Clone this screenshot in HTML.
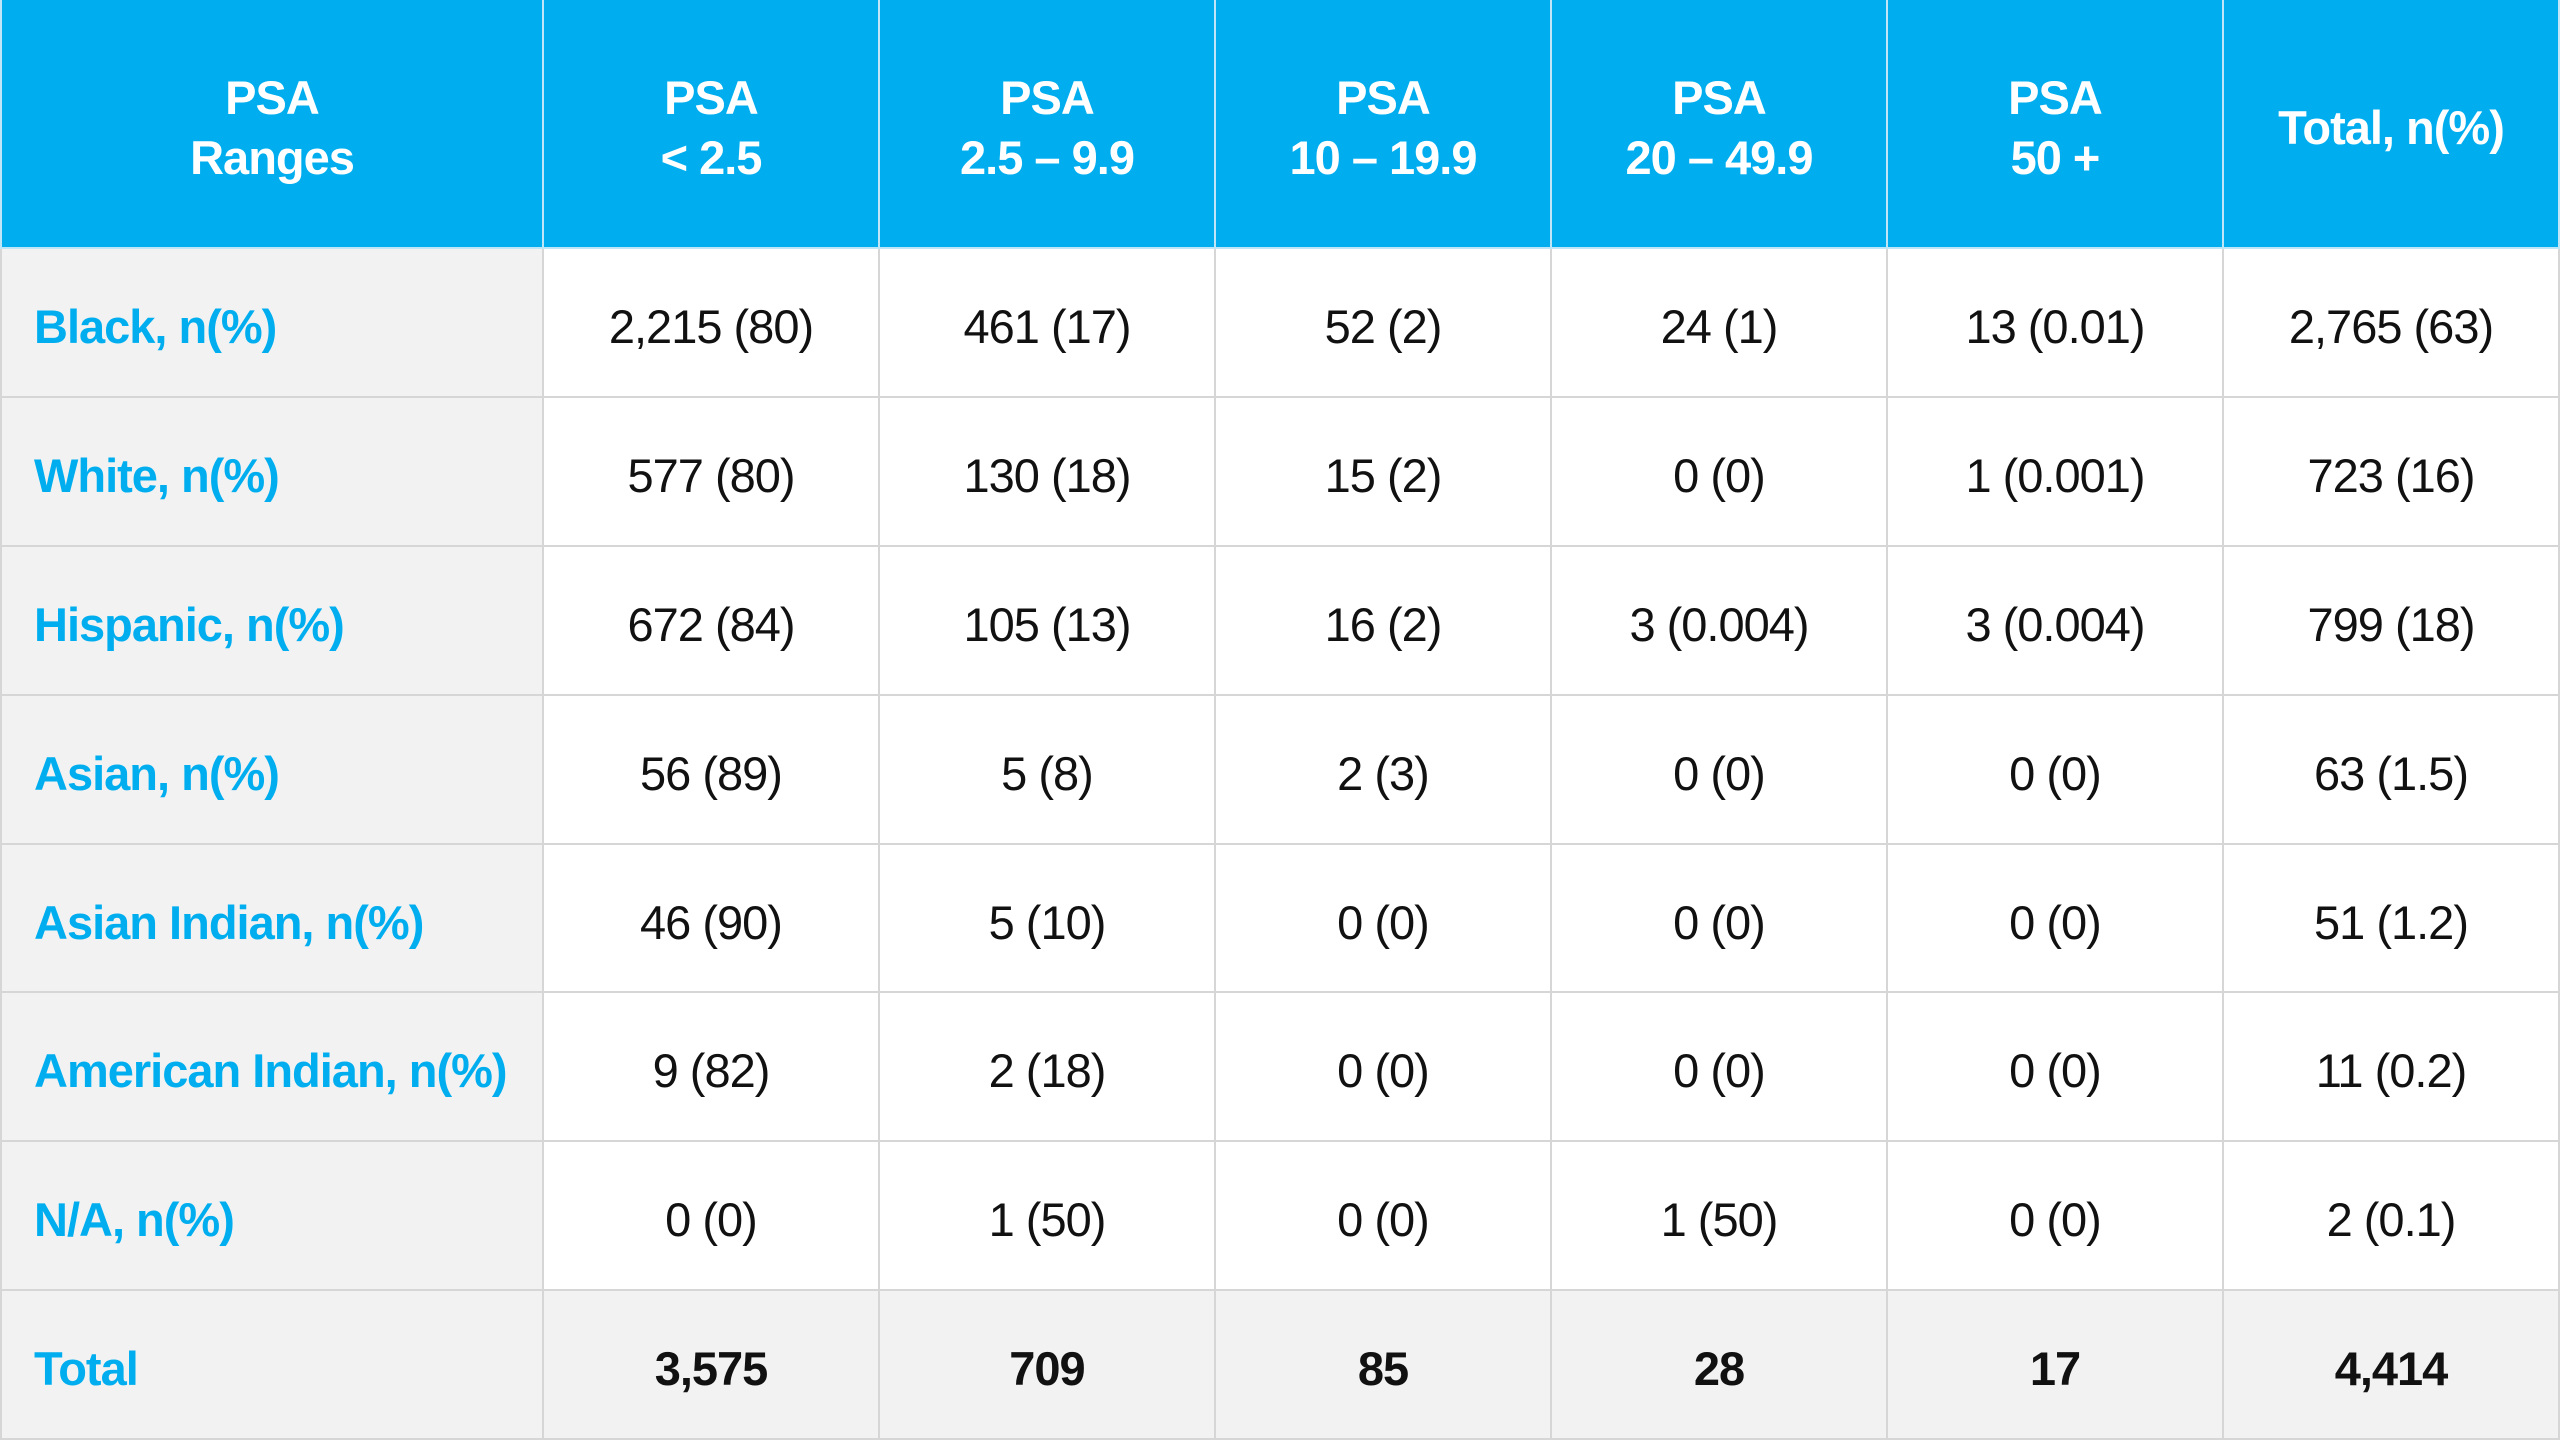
<!DOCTYPE html>
<html><head><meta charset="utf-8"><style>
html,body{margin:0;padding:0;background:#fff;overflow:hidden;}
table{border-collapse:collapse;width:2560px;height:1440px;table-layout:fixed;font-family:"Liberation Sans",sans-serif;font-size:47px;letter-spacing:-1px;}
td,th{border:2px solid #d6d6d6;text-align:center;color:#111;padding:0;}
th{background:#00aeef;color:#fff;font-weight:bold;height:246px;line-height:60px;border-color:#bfe6f7;border-top:none;}
td{height:146px;}
td.l{background:#f2f2f2;color:#00aeef;font-weight:bold;text-align:left;padding-left:32px;}
tr.t td{background:#f2f2f2;font-weight:bold;}
col.c0{width:542px;}
th span,td span{position:relative;top:4px;}
</style></head><body>
<table>
<colgroup><col class="c0"><col><col><col><col><col><col></colgroup>
<tr><th><span>PSA<br>Ranges</span></th><th><span>PSA<br>&lt; 2.5</span></th><th><span>PSA<br>2.5 – 9.9</span></th><th><span>PSA<br>10 – 19.9</span></th><th><span>PSA<br>20 – 49.9</span></th><th><span>PSA<br>50 +</span></th><th><span>Total, n(%)</span></th></tr>
<tr><td class="l"><span>Black, n(%)</span></td><td><span>2,215 (80)</span></td><td><span>461 (17)</span></td><td><span>52 (2)</span></td><td><span>24 (1)</span></td><td><span>13 (0.01)</span></td><td><span>2,765 (63)</span></td></tr>
<tr><td class="l"><span>White, n(%)</span></td><td><span>577 (80)</span></td><td><span>130 (18)</span></td><td><span>15 (2)</span></td><td><span>0 (0)</span></td><td><span>1 (0.001)</span></td><td><span>723 (16)</span></td></tr>
<tr><td class="l"><span>Hispanic, n(%)</span></td><td><span>672 (84)</span></td><td><span>105 (13)</span></td><td><span>16 (2)</span></td><td><span>3 (0.004)</span></td><td><span>3 (0.004)</span></td><td><span>799 (18)</span></td></tr>
<tr><td class="l"><span>Asian, n(%)</span></td><td><span>56 (89)</span></td><td><span>5 (8)</span></td><td><span>2 (3)</span></td><td><span>0 (0)</span></td><td><span>0 (0)</span></td><td><span>63 (1.5)</span></td></tr>
<tr><td class="l"><span>Asian Indian, n(%)</span></td><td><span>46 (90)</span></td><td><span>5 (10)</span></td><td><span>0 (0)</span></td><td><span>0 (0)</span></td><td><span>0 (0)</span></td><td><span>51 (1.2)</span></td></tr>
<tr><td class="l"><span>American Indian, n(%)</span></td><td><span>9 (82)</span></td><td><span>2 (18)</span></td><td><span>0 (0)</span></td><td><span>0 (0)</span></td><td><span>0 (0)</span></td><td><span>11 (0.2)</span></td></tr>
<tr><td class="l"><span>N/A, n(%)</span></td><td><span>0 (0)</span></td><td><span>1 (50)</span></td><td><span>0 (0)</span></td><td><span>1 (50)</span></td><td><span>0 (0)</span></td><td><span>2 (0.1)</span></td></tr>
<tr class="t"><td class="l"><span>Total</span></td><td><span>3,575</span></td><td><span>709</span></td><td><span>85</span></td><td><span>28</span></td><td><span>17</span></td><td><span>4,414</span></td></tr>
</table>
</body></html>
